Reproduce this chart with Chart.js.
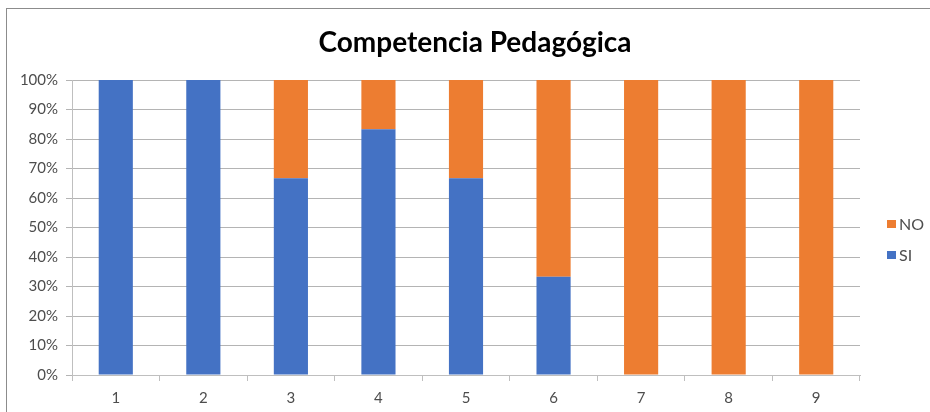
<!DOCTYPE html>
<html>
<head>
<meta charset="utf-8">
<script src="https://cdn.jsdelivr.net/npm/chart.js@4"></script>
<style>
  html, body { margin: 0; padding: 0; background: #fff; }
  #frame { position: absolute; left: 6px; top: 8px; width: 930px; height: 410px;
           border-left: 1px solid #8c8c8c; border-top: 1px solid #8c8c8c; }
  #wrap { position: absolute; left: 0; top: 0; width: 930px; height: 412px; }
</style>
</head>
<body>
<div id="frame"></div>
<div id="wrap"><canvas id="c" width="930" height="412"></canvas></div>
<script>
// Categories and series (percent of responses)
const categories = ['1', '2', '3', '4', '5', '6', '7', '8', '9'];
const siValues = [100, 100, 66.67, 83.33, 66.67, 33.33, 0, 0, 0];
const noValues = [0, 0, 33.33, 16.67, 33.33, 66.67, 100, 100, 100];
const seriesNames = ['SI', 'NO'];
const seriesColors = ['#4472C4', '#ED7D31'];
const titleText = 'Competencia Pedagógica';

const tickFont = { family: 'Lato', size: 15 };
const tickColor = '#4d4d4d';
const gridColor = '#b4b4b4';

// Title centred over the whole frame, not only the plot
const frameTitle = {
  id: 'frameTitle',
  afterDraw(chart) {
    const ctx = chart.ctx;
    ctx.save();
    ctx.font = 'bold 28px Lato';
    ctx.fillStyle = '#000';
    ctx.textAlign = 'center';
    ctx.textBaseline = 'middle';
    ctx.fillText(titleText, 475, 43);
    ctx.restore();
  }
};

// Legend on the right, listed top-down as NO then SI
const sideLegend = {
  id: 'sideLegend',
  afterDraw(chart) {
    const ctx = chart.ctx;
    const ds = chart.data.datasets;
    const rows = [ds[1], ds[0]];
    const ys = [224, 255];
    ctx.save();
    ctx.font = '16px Lato';
    ctx.textBaseline = 'middle';
    rows.forEach((d, i) => {
      ctx.fillStyle = d.backgroundColor;
      ctx.fillRect(887, ys[i] - 4, 9, 8);
      ctx.fillStyle = tickColor;
      ctx.fillText(d.label, 899, ys[i] + 1);
    });
    ctx.restore();
  }
};

new Chart(document.getElementById('c'), {
  type: 'bar',
  data: {
    labels: categories,
    datasets: [
      { label: seriesNames[0], data: siValues, backgroundColor: seriesColors[0] },
      { label: seriesNames[1], data: noValues, backgroundColor: seriesColors[1] }
    ]
  },
  options: {
    responsive: false,
    animation: false,
    devicePixelRatio: 1,
    layout: { padding: { left: 0, right: 70, top: 80, bottom: 0 } },
    datasets: { bar: { categoryPercentage: 1, barPercentage: 0.39 } },
    plugins: {
      legend: { display: false },
      tooltip: { enabled: false },
      title: { display: false }
    },
    scales: {
      x: {
        stacked: true,
        grid: { offset: true, drawOnChartArea: false, color: '#bfbfbf', tickLength: 6 },
        border: { color: '#bfbfbf' },
        ticks: { font: tickFont, color: tickColor, padding: 8, maxRotation: 0 },
        afterFit(s) { s.height = 37; }
      },
      y: {
        stacked: true,
        min: 0,
        max: 100,
        grid: { color: gridColor, tickLength: 6 },
        border: { color: '#bfbfbf' },
        ticks: { stepSize: 10, font: tickFont, color: tickColor, padding: 8,
                 callback: v => v + '%' },
        afterFit(s) { s.width = 72; }
      }
    }
  },
  plugins: [frameTitle, sideLegend]
});
</script>
</body>
</html>
